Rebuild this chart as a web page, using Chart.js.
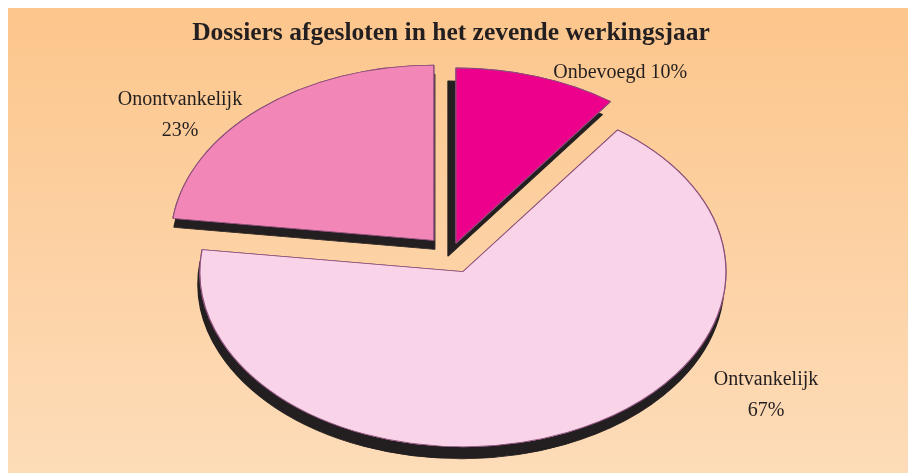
<!DOCTYPE html>
<html>
<head>
<meta charset="utf-8">
<script src="https://cdn.jsdelivr.net/npm/chart.js@4.4.1/dist/chart.umd.min.js"></script>
<style>
    html, body { margin: 0; padding: 0; background: #fff; }
    #wrap { width: 908px; height: 473px; position: relative; }
</style>
</head>
<body>
<div id="wrap"><canvas id="dossierChart"></canvas></div>
<script>
const chartTitle = 'Dossiers afgesloten in het zevende werkingsjaar';
const categories = ['Onbevoegd', 'Ontvankelijk', 'Onontvankelijk'];
const shares = [10, 67, 23];
const sliceColors = ['#ec008c', '#f9d3e7', '#f287b7'];

// look of the picture: squashed pie, pulled-out slices, hard shadows
const tilt = 0.666;
const explode = [16, 30, 26];
const shadowOffsets = [[-8, 13], [-2, 12], [1, 9]];
const labelSpots = [
    { angle: 32.0, dist: 1.214, inline: true },
    { angle: 124.0, dist: 1.445, inline: false },
    { angle: 307.5, dist: 1.299, inline: false }
];

const backdrop = {
    id: 'backdrop',
    beforeDraw(chart) {
        const { ctx, width, height } = chart;
        const g = ctx.createLinearGradient(0, 8, 0, height);
        g.addColorStop(0, '#fcc68c');
        g.addColorStop(1, '#fddcb9');
        ctx.save();
        ctx.fillStyle = g;
        ctx.fillRect(8, 8, width - 8, height - 8);
        ctx.restore();
    }
};

const tiltedPie = {
    id: 'tiltedPie',
    beforeDatasetsDraw(chart) {
        const ctx = chart.ctx;
        const arcs = chart.getDatasetMeta(0).data;
        const cx = arcs[0].x, cy = arcs[0].y;
        const drawPass = (withShadow) => {
            arcs.forEach((arc, i) => {
                const mid = (arc.startAngle + arc.endAngle) / 2;
                ctx.save();
                ctx.translate(cx, cy);
                ctx.scale(1, tilt);
                ctx.translate(-cx, -cy);
                ctx.translate(Math.cos(mid) * explode[i], Math.sin(mid) * explode[i]);
                if (withShadow) {
                    ctx.shadowColor = '#231f20';
                    ctx.shadowBlur = 0;
                    ctx.shadowOffsetX = shadowOffsets[i][0];
                    ctx.shadowOffsetY = shadowOffsets[i][1];
                }
                arc.draw(ctx);
                ctx.restore();
            });
        };
        drawPass(true);
        drawPass(false);
        return false;
    },
    afterDraw(chart) {
        const ctx = chart.ctx;
        const arcs = chart.getDatasetMeta(0).data;
        const r = arcs[0].outerRadius;
        ctx.save();
        ctx.font = '20px "Liberation Serif", serif';
        ctx.fillStyle = '#231f20';
        ctx.textAlign = 'center';
        ctx.textBaseline = 'middle';
        labelSpots.forEach((spot, i) => {
            const a = spot.angle * Math.PI / 180;
            const x = arcs[i].x + Math.sin(a) * spot.dist * r;
            const y = arcs[i].y - Math.cos(a) * spot.dist * r * tilt;
            const pct = shares[i] + '%';
            if (spot.inline) {
                ctx.fillText(categories[i] + ' ' + pct, x, y);
            } else {
                ctx.fillText(categories[i], x, y - 15.5);
                ctx.fillText(pct, x, y + 15.5);
            }
        });
        ctx.restore();
    }
};

new Chart(document.getElementById('dossierChart'), {
    type: 'pie',
    data: {
        labels: categories,
        datasets: [{
            data: shares,
            backgroundColor: sliceColors,
            borderColor: '#8c4f7a',
            borderWidth: 1.2,
            clip: false
        }]
    },
    options: {
        responsive: true,
        maintainAspectRatio: false,
        animation: false,
        events: [],
        radius: 263,
        layout: { padding: { top: 0, right: 6, bottom: 15, left: 0 } },
        plugins: {
            legend: { display: false },
            tooltip: { enabled: false },
            title: {
                display: true,
                text: chartTitle,
                color: '#231f20',
                font: { family: '"Liberation Serif", serif', size: 25.5, weight: 'bold', lineHeight: 1.2 },
                padding: { top: 18, bottom: 0 }
            }
        }
    },
    plugins: [backdrop, tiltedPie]
});
</script>
</body>
</html>
